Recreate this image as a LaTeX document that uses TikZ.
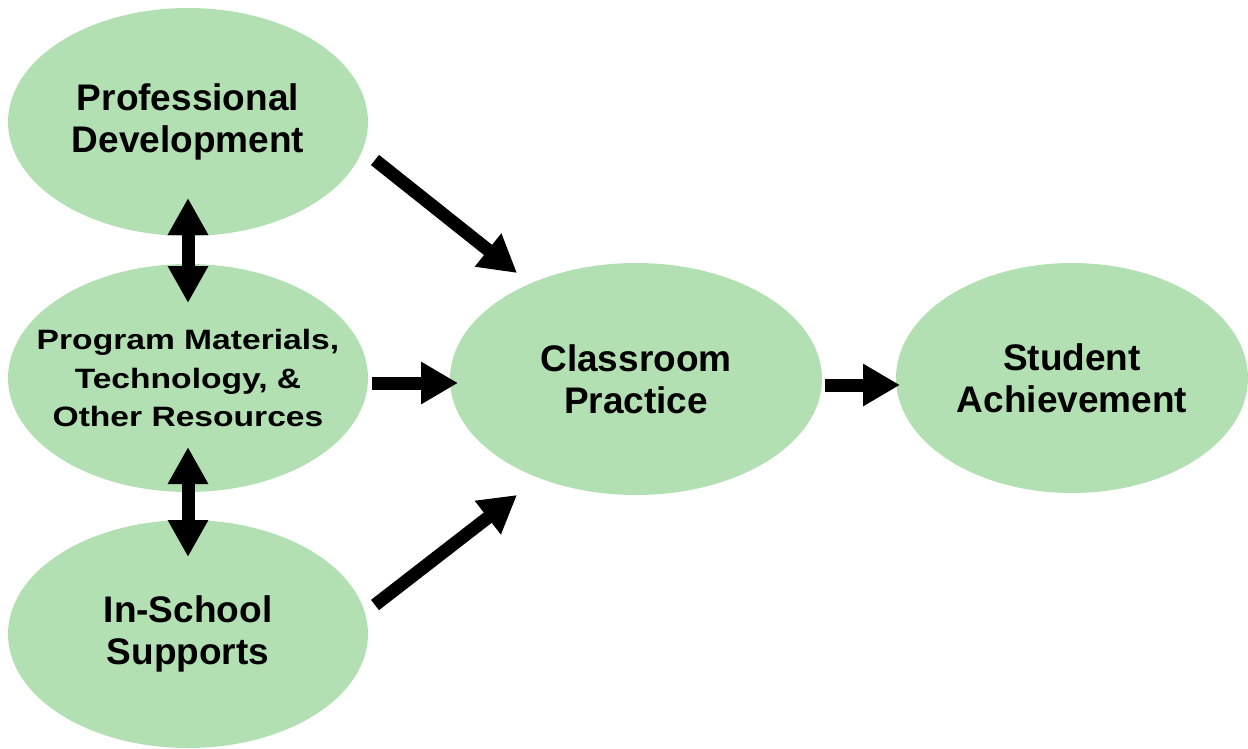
\documentclass[tikz,border=0pt]{standalone}
\usepackage{fontspec}
\setmainfont{Liberation Sans}
\newfontfamily\widefont{Liberation Sans}[FakeStretch=1.2]
\usetikzlibrary{shapes.geometric,arrows.meta}
\definecolor{ovalgreen}{RGB}{179,224,179}
\begin{document}
\begin{tikzpicture}[x=1pt,y=-1pt,
  oval/.style={ellipse, fill=ovalgreen, draw=none, inner sep=0pt,
    minimum width=360pt, minimum height=228pt, align=center,
    font=\fontsize{37}{42}\selectfont\bfseries},
  smalltext/.style={font=\fontsize{28}{38.5}\selectfont\widefont\bfseries, inner xsep=-60pt},
  bigarrow/.style={line width=13pt, -{Triangle[width=40pt,length=37pt]}},
  dblarrow/.style={line width=13pt,
    {Triangle[width=38pt,length=37pt]}-{Triangle[width=38pt,length=37pt]}}]
\useasboundingbox (0,0) rectangle (1248,748);

\node[oval] (pd) at (188,122) {Professional\\Development};
\node[oval, smalltext] (pm) at (188,378) {Program Materials,\\Technology, \&\\Other Resources};
\node[oval] (is) at (188,634) {In-School\\Supports};
\node[oval, minimum width=372pt, minimum height=232pt] (cp) at (636,379) {Classroom\\Practice};
\node[oval, minimum width=352pt, minimum height=230pt] (sa) at (1072,378) {Student\\Achievement};

\coordinate (a1s) at (375,160);
\coordinate (a1e) at (517,273);
\coordinate (a2s) at (372,383);
\coordinate (a2e) at (458,383);
\coordinate (a3s) at (375,605);
\coordinate (a3e) at (517,495);
\coordinate (a4s) at (825,385);
\coordinate (a4e) at (900,385);
\coordinate (d1s) at (188,198);
\coordinate (d1e) at (188,303);
\coordinate (d2s) at (188,447);
\coordinate (d2e) at (188,557);

\draw[bigarrow] (a1s) -- (a1e);
\draw[bigarrow] (a2s) -- (a2e);
\draw[bigarrow] (a3s) -- (a3e);
\draw[bigarrow] (a4s) -- (a4e);
\draw[dblarrow] (d1s) -- (d1e);
\draw[dblarrow] (d2s) -- (d2e);
\end{tikzpicture}
\end{document}
